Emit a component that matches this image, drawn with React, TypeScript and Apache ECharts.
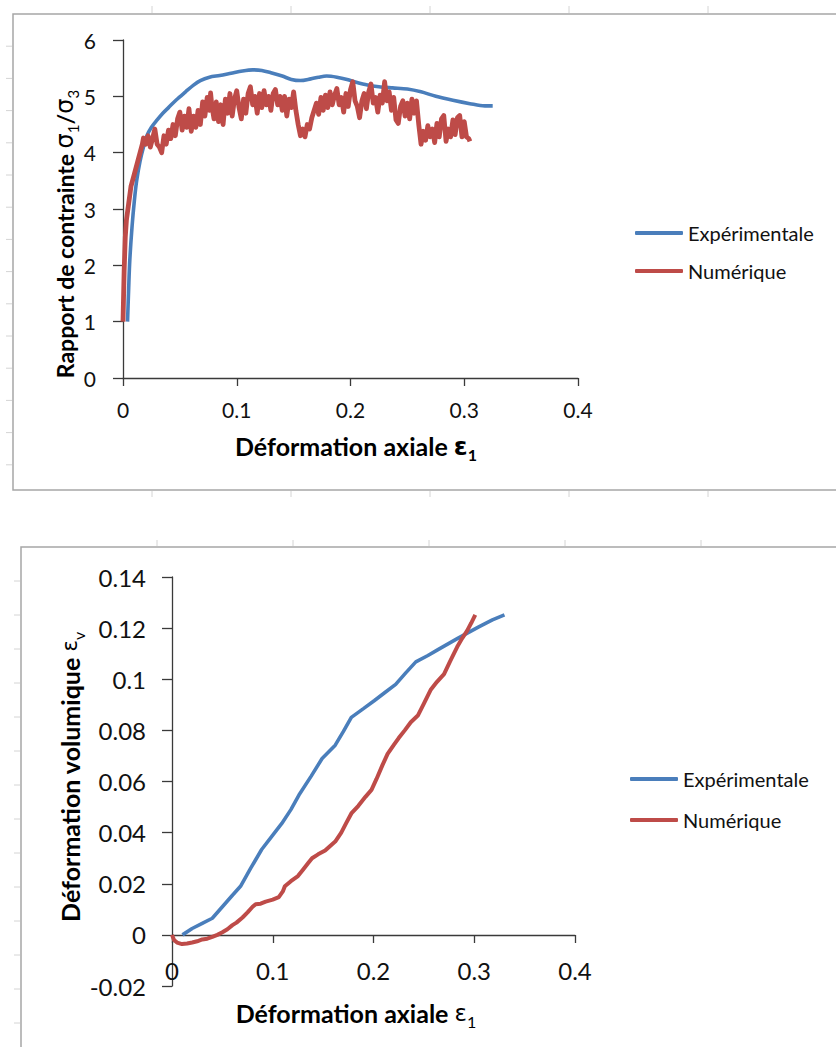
import React, { useEffect, useRef } from "react";
import * as echarts from "echarts";

const SERIES_NAMES = ["Expérimentale", "Numérique"];
const BLUE = "#4A7EBB";
const RED = "#BE4B48";

// Chart 1: stress ratio σ1/σ3 vs axial strain ε1
const ratioExperimental: [number, number][] = [
  [0.004, 1.0], [0.005, 1.6], [0.006, 2.1], [0.008, 2.7], [0.01, 3.15], [0.012, 3.5],
  [0.015, 3.85], [0.018, 4.1], [0.021, 4.3], [0.025, 4.45], [0.03, 4.58], [0.035, 4.7],
  [0.04, 4.8], [0.047, 4.94], [0.055, 5.08], [0.062, 5.2], [0.068, 5.28], [0.076, 5.34],
  [0.085, 5.37], [0.095, 5.41], [0.105, 5.45], [0.114, 5.47], [0.122, 5.46], [0.13, 5.42],
  [0.14, 5.36], [0.148, 5.3], [0.156, 5.28], [0.165, 5.31], [0.172, 5.34], [0.179, 5.36],
  [0.188, 5.34], [0.197, 5.3], [0.205, 5.25], [0.215, 5.2], [0.225, 5.17], [0.237, 5.15],
  [0.25, 5.13], [0.262, 5.08], [0.275, 5.0], [0.29, 4.93], [0.305, 4.87], [0.318, 4.83],
  [0.325, 4.83],
];

const ratioNumerical: [number, number][] = [
  [0, 1.0], [0.001, 1.9], [0.002, 2.5], [0.003, 2.8], [0.005, 3.1], [0.007, 3.4],
  [0.009, 3.55], [0.011, 3.7], [0.013, 3.85], [0.015, 4.0], [0.017, 4.15], [0.018, 4.26],
  [0.02, 4.15], [0.022, 4.3], [0.024, 4.1], [0.026, 4.25], [0.028, 4.42], [0.03, 4.15],
  [0.032, 4.1], [0.034, 4.0], [0.036, 4.3], [0.038, 4.15], [0.04, 4.4], [0.042, 4.25],
  [0.044, 4.5], [0.046, 4.3], [0.048, 4.6], [0.05, 4.72], [0.052, 4.4], [0.054, 4.65],
  [0.056, 4.45], [0.058, 4.78], [0.06, 4.38], [0.062, 4.65], [0.064, 4.45], [0.066, 4.75],
  [0.068, 4.5], [0.07, 4.9], [0.072, 4.65], [0.074, 4.98], [0.076, 4.75], [0.077, 5.06],
  [0.078, 4.85], [0.08, 4.6], [0.082, 4.9], [0.084, 4.55], [0.086, 4.85], [0.088, 4.5],
  [0.09, 4.95], [0.092, 4.7], [0.094, 5.05], [0.096, 4.65], [0.098, 4.95], [0.1, 5.1],
  [0.102, 4.8], [0.104, 4.6], [0.106, 4.95], [0.108, 4.7], [0.11, 5.05], [0.112, 5.17],
  [0.114, 4.85], [0.116, 5.0], [0.118, 4.7], [0.12, 5.05], [0.122, 4.8], [0.124, 5.1],
  [0.126, 4.85], [0.128, 5.0], [0.13, 4.75], [0.132, 5.05], [0.134, 5.12], [0.136, 4.85],
  [0.138, 5.0], [0.14, 4.75], [0.142, 5.0], [0.144, 4.65], [0.146, 4.95], [0.148, 4.8],
  [0.15, 5.08], [0.152, 4.75], [0.154, 4.5], [0.156, 4.3], [0.158, 4.42], [0.16, 4.28],
  [0.162, 4.5], [0.164, 4.42], [0.166, 4.62], [0.168, 4.75], [0.17, 4.88], [0.172, 4.68],
  [0.174, 4.98], [0.176, 4.75], [0.178, 5.02], [0.18, 4.8], [0.182, 5.08], [0.184, 4.85],
  [0.186, 5.02], [0.188, 5.14], [0.19, 4.85], [0.192, 4.98], [0.194, 4.72], [0.196, 5.05],
  [0.198, 4.82], [0.2, 5.12], [0.202, 5.26], [0.204, 4.92], [0.206, 4.82], [0.208, 4.62],
  [0.21, 4.92], [0.212, 5.05], [0.214, 4.78], [0.216, 5.08], [0.218, 5.22], [0.22, 4.88],
  [0.222, 4.98], [0.224, 4.72], [0.226, 5.02], [0.228, 4.88], [0.23, 5.26], [0.232, 4.92],
  [0.234, 5.08], [0.236, 4.75], [0.238, 4.98], [0.24, 4.58], [0.242, 4.52], [0.244, 4.82],
  [0.246, 4.92], [0.248, 4.65], [0.25, 4.88], [0.252, 4.6], [0.254, 4.95], [0.256, 4.7],
  [0.258, 4.92], [0.26, 4.5], [0.262, 4.15], [0.264, 4.38], [0.266, 4.22], [0.268, 4.48],
  [0.27, 4.28], [0.272, 4.42], [0.274, 4.18], [0.276, 4.52], [0.278, 4.28], [0.28, 4.6],
  [0.282, 4.66], [0.284, 4.2], [0.286, 4.42], [0.288, 4.28], [0.29, 4.58], [0.292, 4.32],
  [0.294, 4.62], [0.296, 4.66], [0.298, 4.28], [0.3, 4.55], [0.302, 4.28], [0.304, 4.25],
  [0.305, 4.2],
];

// Chart 2: volumetric strain εv vs axial strain ε1
const volExperimental: [number, number][] = [
  [0.0104, 0], [0.02, 0.0025], [0.03, 0.0045], [0.04, 0.0065], [0.05, 0.011], [0.06, 0.0155],
  [0.068, 0.019], [0.078, 0.026], [0.089, 0.0334], [0.1, 0.039], [0.109, 0.0436], [0.118, 0.049],
  [0.126, 0.0547], [0.138, 0.062], [0.149, 0.069], [0.162, 0.0742], [0.17, 0.0795], [0.178, 0.0851],
  [0.19, 0.0885], [0.201, 0.0917], [0.212, 0.095], [0.222, 0.098], [0.232, 0.1025], [0.242, 0.1068],
  [0.254, 0.1093], [0.264, 0.1116], [0.284, 0.1161], [0.304, 0.1204], [0.318, 0.1232], [0.33, 0.1252],
];

const volNumerical: [number, number][] = [
  [0, 0], [0.002, -0.002], [0.005, -0.003], [0.01, -0.0036], [0.015, -0.0034], [0.02, -0.003],
  [0.025, -0.0025], [0.03, -0.0018], [0.035, -0.0015], [0.04, -0.0008], [0.045, 0.0], [0.05, 0.001],
  [0.055, 0.0022], [0.06, 0.0038], [0.064, 0.0048], [0.07, 0.0068], [0.075, 0.0088], [0.08, 0.011],
  [0.083, 0.012], [0.088, 0.0122], [0.093, 0.013], [0.1, 0.0138], [0.106, 0.0148], [0.11, 0.017],
  [0.112, 0.019], [0.118, 0.021], [0.125, 0.023], [0.13, 0.0255], [0.135, 0.028], [0.139, 0.03],
  [0.145, 0.0315], [0.152, 0.033], [0.157, 0.0348], [0.162, 0.0365], [0.168, 0.04], [0.173, 0.0438],
  [0.178, 0.0475], [0.185, 0.0505], [0.192, 0.054], [0.198, 0.0567], [0.203, 0.061], [0.209, 0.0665],
  [0.214, 0.0708], [0.22, 0.0742], [0.225, 0.077], [0.231, 0.08], [0.237, 0.0832], [0.244, 0.0858],
  [0.25, 0.0905], [0.257, 0.096], [0.263, 0.099], [0.27, 0.102], [0.276, 0.107], [0.283, 0.1126],
  [0.288, 0.116], [0.293, 0.119], [0.297, 0.122], [0.301, 0.1252],
];

const FONT = "Lato, 'Open Sans', sans-serif";
const TEXT = "#111111";
const AXIS = "#3a3a3a";

const fmt = (v: number) => String(+v.toFixed(2));

function axisCommon(labelMargin: number, tickLen: number, fontSize: number) {
  return {
    type: "value" as const,
    axisLine: { show: true, onZero: false, lineStyle: { color: AXIS, width: 1.3 } },
    axisTick: { show: true, inside: false, length: tickLen, lineStyle: { color: AXIS, width: 1.3 } },
    axisLabel: { margin: labelMargin, fontSize, fontFamily: FONT, color: TEXT, formatter: fmt },
    splitLine: { show: false },
  };
}

function titleRich(size: number, greekBold: boolean, greekScale = 1) {
  const gs = Math.round(size * greekScale);
  const ss = Math.round(size * 0.64);
  return {
    b: { fontSize: size, fontWeight: "bold", fontFamily: FONT, color: "#000", lineHeight: size + 8 },
    g: { fontSize: gs, fontWeight: greekBold ? "bold" : "normal", fontFamily: "'DejaVu Sans', sans-serif", color: "#000", lineHeight: size + 8 },
    s: { fontSize: ss, fontWeight: greekBold ? "bold" : "normal", fontFamily: FONT, color: "#000", verticalAlign: "bottom", lineHeight: ss + 2 },
  };
}

function frameDecor() {
  const els: any[] = [];
  const stub = "#d4d4d4";
  const frame = "#a6a6a6";
  els.push({ type: "rect", shape: { x: 13, y: 14, width: 900, height: 476 }, style: { fill: "#fff", stroke: frame, lineWidth: 1.5 }, z: -10 });
  els.push({ type: "rect", shape: { x: 21, y: 547, width: 900, height: 600 }, style: { fill: "#fff", stroke: frame, lineWidth: 1.5 }, z: -10 });
  for (let i = 1; i <= 5; i++) {
    const x = 13 + i * 139;
    els.push({ type: "line", shape: { x1: x, y1: 6, x2: x, y2: 13 }, style: { stroke: stub, lineWidth: 1 }, z: -10 });
    els.push({ type: "line", shape: { x1: x, y1: 491, x2: x, y2: 497 }, style: { stroke: stub, lineWidth: 1 }, z: -10 });
  }
  for (let i = 1; i <= 14; i++) {
    const y = 14 + i * 32.2;
    els.push({ type: "line", shape: { x1: 6, y1: y, x2: 12, y2: y }, style: { stroke: stub, lineWidth: 1 }, z: -10 });
  }
  for (let i = 1; i <= 5; i++) {
    const x = 21 + i * 136;
    els.push({ type: "line", shape: { x1: x, y1: 540, x2: x, y2: 546 }, style: { stroke: stub, lineWidth: 1 }, z: -10 });
  }
  for (let i = 1; i <= 14; i++) {
    const y = 547 + i * 34;
    els.push({ type: "line", shape: { x1: 14, y1: y, x2: 20, y2: y }, style: { stroke: stub, lineWidth: 1 }, z: -10 });
  }
  return els;
}

function titles() {
  return [
    {
      type: "text", x: 65, y: 234, rotation: Math.PI / 2,
      style: {
        text: "{b|Rapport de contrainte }{g|σ}{s|1}{b|/}{g|σ}{s|3}",
        rich: titleRich(23, false, 1.05), align: "center", verticalAlign: "middle",
      },
    },
    {
      type: "text", x: 356, y: 446,
      style: {
        text: "{b|Déformation axiale }{g|ε}{s|1}",
        rich: titleRich(25, true), align: "center", verticalAlign: "middle",
      },
    },
    {
      type: "text", x: 70, y: 777, rotation: Math.PI / 2,
      style: {
        text: "{b|Déformation volumique }{g|ε}{s|v}",
        rich: titleRich(25, false, 0.85), align: "center", verticalAlign: "middle",
      },
    },
    {
      type: "text", x: 356, y: 1013,
      style: {
        text: "{b|Déformation axiale }{g|ε}{s|1}",
        rich: titleRich(25, false, 0.9), align: "center", verticalAlign: "middle",
      },
    },
  ];
}

function legendCfg(left: number, top: number, gap: number) {
  return {
    show: true,
    data: SERIES_NAMES,
    orient: "vertical" as const,
    left,
    top,
    padding: 0,
    itemWidth: 48,
    itemHeight: 4,
    icon: "roundRect",
    itemGap: gap,
    selectedMode: false,
    textStyle: { fontFamily: FONT, fontSize: 20, color: TEXT, lineHeight: 22 },
  };
}

export default function App() {
  const ref = useRef<HTMLDivElement>(null);
  useEffect(() => {
    if (!ref.current) return;
    const chart = echarts.init(ref.current, undefined, { renderer: "svg" });
    chart.setOption({
      animation: false,
      backgroundColor: "#fff",
      grid: [
        { left: 123, top: 40, width: 455, height: 338 },
        { left: 172, top: 577, width: 403, height: 409 },
      ],
      xAxis: [
        { ...axisCommon(21, 8, 21), gridIndex: 0, min: 0, max: 0.4, interval: 0.1 },
        { ...axisCommon(23, 8, 24), gridIndex: 1, min: 0, max: 0.4, interval: 0.1, offset: -51 },
      ],
      yAxis: [
        { ...axisCommon(27, 10, 21), gridIndex: 0, min: 0, max: 6, interval: 1 },
        { ...axisCommon(26, 10, 24), gridIndex: 1, min: -0.02, max: 0.14, interval: 0.02 },
      ],
      legend: [legendCfg(635, 222, 16), legendCfg(630, 768, 19)],
      graphic: [...frameDecor(), ...titles()],
      series: [
        { type: "line", name: SERIES_NAMES[0], xAxisIndex: 0, yAxisIndex: 0, data: ratioExperimental, symbol: "none", smooth: 0.3, lineStyle: { color: BLUE, width: 3.6 }, itemStyle: { color: BLUE } },
        { type: "line", name: SERIES_NAMES[1], xAxisIndex: 0, yAxisIndex: 0, data: ratioNumerical, symbol: "none", lineStyle: { color: RED, width: 4.8, join: "round" }, itemStyle: { color: RED } },
        { type: "line", name: SERIES_NAMES[0], xAxisIndex: 1, yAxisIndex: 1, data: volExperimental, symbol: "none", lineStyle: { color: BLUE, width: 3.6 }, itemStyle: { color: BLUE } },
        { type: "line", name: SERIES_NAMES[1], xAxisIndex: 1, yAxisIndex: 1, data: volNumerical, symbol: "none", lineStyle: { color: RED, width: 4 }, itemStyle: { color: RED } },
      ],
    });
    return () => chart.dispose();
  }, []);
  return <div ref={ref} style={{ position: "absolute", left: 0, top: 0, width: 836, height: 1047 }} />;
}
